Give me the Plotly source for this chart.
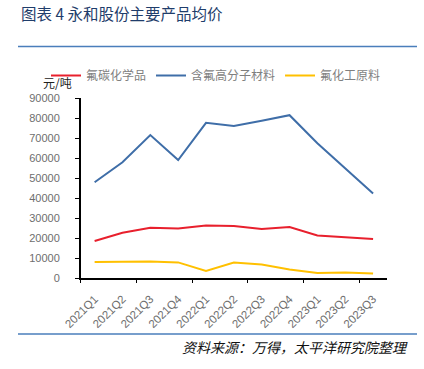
import plotly.graph_objects as go

quarters = ["2021Q1", "2021Q2", "2021Q3", "2021Q4", "2022Q1", "2022Q2",
            "2022Q3", "2022Q4", "2023Q1", "2023Q2", "2023Q3"]
fluorocarbons = [18500, 22600, 25100, 24800, 26300, 26000, 24500, 25500, 21300, 20500, 19500]
fluoropolymers = [47900, 57900, 71500, 59000, 77600, 76000, 78600, 81400, 67400, 54800, 42300]
raw_materials = [8000, 8300, 8300, 7800, 3500, 7700, 6700, 4200, 2500, 2800, 2200]
y_ticks = [0, 10000, 20000, 30000, 40000, 50000, 60000, 70000, 80000, 90000]

W, H = 424, 369


def px(x):
    return x / W


def py(y):
    return 1 - y / H


x0, x1 = 80.7, 387.0
y_top, y_bot = 98.0, 278.0

idx = list(range(len(quarters)))
font_cjk = "Noto Sans CJK SC, sans-serif"

fig = go.Figure()
fig.add_trace(go.Scatter(x=idx, y=fluorocarbons, mode="lines", name="氟碳化学品",
                         line=dict(color="#E8202D", width=2)))
fig.add_trace(go.Scatter(x=idx, y=fluoropolymers, mode="lines", name="含氟高分子材料",
                         line=dict(color="#3F6EA8", width=2)))
fig.add_trace(go.Scatter(x=idx, y=raw_materials, mode="lines", name="氟化工原料",
                         line=dict(color="#FFC000", width=2)))
fig.add_trace(go.Scatter(x=[idx[0]], y=[None], xaxis="x2", showlegend=False,
                         hoverinfo="skip", mode="lines"))

fig.update_layout(
    width=W, height=H, autosize=False,
    margin=dict(l=0, r=0, t=0, b=0, pad=0, autoexpand=False),
    paper_bgcolor="white", plot_bgcolor="white",
    xaxis=dict(domain=[px(x0), px(x1)], range=[-0.5, len(quarters) - 0.5],
               tickvals=idx, ticktext=quarters, tickangle=-45, automargin=False,
               showgrid=False, zeroline=False, showline=True, linecolor="black",
               linewidth=1.5, ticks="", ticklabelstandoff=8,
               tickfont=dict(family="Liberation Sans, Arial", size=11.5, color="#6E6E6E")),
    xaxis2=dict(domain=[px(x0), px(x1)], range=[-0.5, len(quarters) - 0.5],
                overlaying="x", anchor="y", side="bottom", automargin=False,
                tickvals=[i - 0.5 for i in idx[::2]], showticklabels=False,
                ticks="outside", ticklen=4, tickcolor="black", tickwidth=1.2,
                showgrid=False, zeroline=False, showline=False),
    yaxis=dict(domain=[py(y_bot), py(y_top)], range=[0, 90000], automargin=False,
               tickvals=y_ticks, ticktext=[str(v) for v in y_ticks],
               showgrid=False, zeroline=False, showline=True, linecolor="black",
               linewidth=1.5, ticks="outside", ticklen=4, tickcolor="black",
               tickwidth=1.2, ticklabelstandoff=13,
               tickfont=dict(family="Liberation Sans, Arial", size=11, color="#6E6E6E")),
    legend=dict(orientation="h", xref="container", yref="container",
                x=px(46), y=py(61), xanchor="left", yanchor="top",
                font=dict(family=font_cjk, size=12, color="#7F7F7F"),
                itemwidth=30, tracegroupgap=0, bgcolor="rgba(0,0,0,0)"),
    showlegend=True,
    hovermode=False,
)

fig.add_shape(type="line", xref="paper", yref="paper", x0=px(18), x1=px(417),
              y0=py(46.5), y1=py(46.5), line=dict(color="#4A7EBB", width=1.5))
fig.add_shape(type="line", xref="paper", yref="paper", x0=px(18), x1=px(417),
              y0=py(334), y1=py(334), line=dict(color="#4A7EBB", width=1.5))

fig.add_annotation(text="图表 4 永和股份主要产品均价", xref="paper", yref="paper",
                   x=px(19), y=py(13), xanchor="left", yanchor="middle",
                   showarrow=False, font=dict(family=font_cjk, size=15.5, color="#1F3D6B"))
fig.add_annotation(text="元/吨", xref="paper", yref="paper",
                   x=px(41), y=py(82), xanchor="left", yanchor="middle",
                   showarrow=False, font=dict(family=font_cjk, size=12, color="#222222"))
fig.add_annotation(text="<i>资料来源：万得，太平洋研究院整理</i>", xref="paper", yref="paper",
                   x=px(410), y=py(347), xanchor="right", yanchor="middle",
                   showarrow=False, font=dict(family=font_cjk, size=14, color="#111111"))

fig.write_html("out.html", config={"displayModeBar": False},
               post_script="document.body.style.margin='0';document.body.style.overflow='hidden';")
